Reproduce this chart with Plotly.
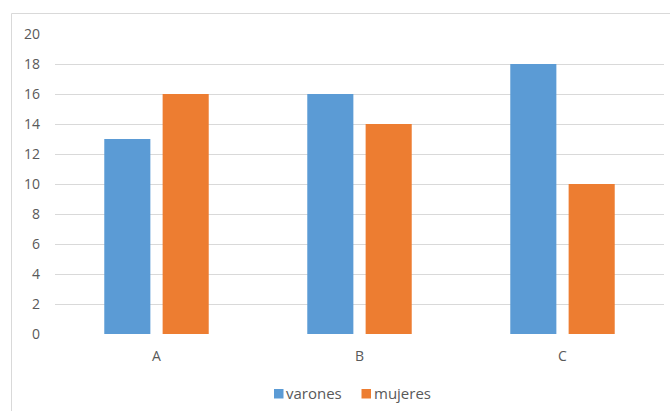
import plotly.graph_objects as go

categories = ["A", "B", "C"]
varones = [13, 16, 18]
mujeres = [16, 14, 10]
y_ticks = list(range(0, 21, 2))
series_names = ["varones", "mujeres"]
series_colors = ["#5B9BD5", "#ED7D31"]

W, H = 670, 411
ml, mr, mt, mb = 55, 6, 34, 77
pw = W - ml - mr
ph = H - mt - mb
FONT = "Open Sans, Liberation Sans, sans-serif"
TXT = "#595959"

fig = go.Figure()
fig.add_trace(go.Bar(name=series_names[0], x=categories, y=varones,
                     marker=dict(color=series_colors[0], line=dict(width=0))))
fig.add_trace(go.Bar(name=series_names[1], x=categories, y=mujeres,
                     marker=dict(color=series_colors[1], line=dict(width=0))))

def px_x(p):
    return (p - ml) / pw

def px_y(p):
    return 1 - (p - mt) / ph

# chart-area border
fig.add_shape(type="rect", xref="paper", yref="paper",
              x0=px_x(11.5), x1=px_x(675), y0=px_y(13.5), y1=px_y(420),
              line=dict(color="#D9D9D9", width=1), fillcolor="rgba(0,0,0,0)", layer="below")

# legend (Excel style: small square + label)
legend_sq = [274, 361.5]
for name, color, lx in zip(series_names, series_colors, legend_sq):
    fig.add_shape(type="rect", xref="paper", yref="paper",
                  x0=px_x(lx), x1=px_x(lx + 9.5), y0=px_y(398.5), y1=px_y(389),
                  line=dict(width=0), fillcolor=color)
    fig.add_annotation(
        xref="paper", yref="paper", x=px_x(lx + 10), y=px_y(393),
        xanchor="left", yanchor="middle", showarrow=False,
        text=name, font=dict(family=FONT, size=15, color=TXT),
    )

fig.update_layout(
    width=W, height=H,
    margin=dict(l=ml, r=mr, t=mt, b=mb),
    paper_bgcolor="white", plot_bgcolor="white",
    barmode="group", bargap=0.425, bargroupgap=0.21,
    font=dict(family=FONT, size=14, color=TXT),
    xaxis=dict(showgrid=False, showline=False, ticks="", ticklabelstandoff=12,
               tickfont=dict(size=14, color=TXT)),
    yaxis=dict(range=[0, 20], tickvals=y_ticks, showgrid=True, gridcolor="#D9D9D9",
               gridwidth=1, zeroline=False, showline=False, ticks="",
               ticklabelstandoff=14, tickfont=dict(size=14, color=TXT)),
    showlegend=False,
)

fig.write_html("out.html")
